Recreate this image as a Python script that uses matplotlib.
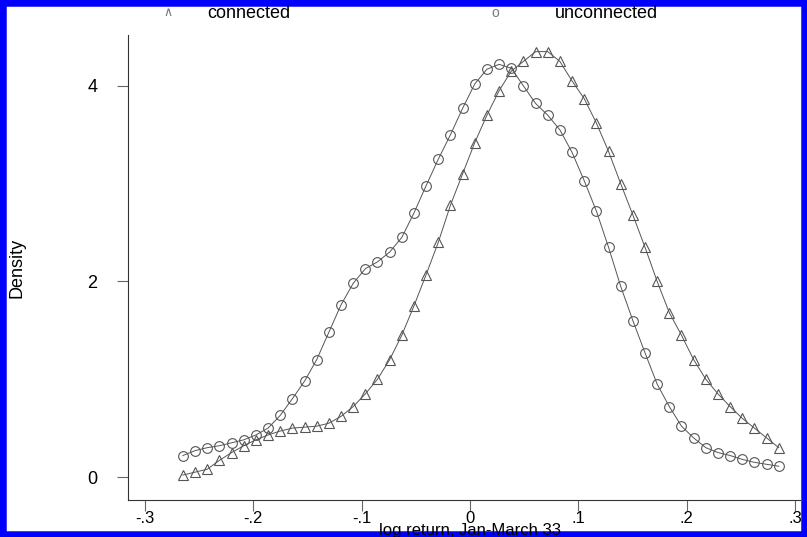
import numpy as np
import matplotlib
matplotlib.use("Agg")
import matplotlib.pyplot as plt
from matplotlib.patches import Rectangle

plt.rcParams['font.family'] = ['Liberation Sans', 'DejaVu Sans']

conn = [0.02,0.05,0.08,0.17,0.25,0.32,0.38,0.43,0.47,0.5,0.51,0.52,0.55,0.62,0.72,0.85,1.0,1.2,1.45,1.75,
        2.07,2.4,2.78,3.1,3.42,3.7,3.95,4.15,4.25,4.35,4.35,4.25,4.05,3.87,3.62,3.33,3.0,2.68,2.35,2.0,
        1.68,1.45,1.2,1.0,0.85,0.72,0.6,0.5,0.4,0.3]
unconn = [0.22,0.27,0.3,0.32,0.35,0.38,0.43,0.5,0.63,0.8,0.98,1.2,1.48,1.76,1.98,2.13,2.2,2.3,2.45,2.7,
          2.98,3.25,3.5,3.77,4.02,4.17,4.22,4.18,4.0,3.82,3.7,3.55,3.32,3.03,2.72,2.35,1.95,1.6,1.27,0.95,
          0.72,0.52,0.4,0.3,0.25,0.22,0.18,0.15,0.13,0.11]
xgrid = np.linspace(-0.265, 0.285, len(conn))
xticks = [-0.3,-0.2,-0.1,0,0.1,0.2,0.3]
xlabels = ['-.3','-.2','-.1','0','.1','.2','.3']
yticks = [0,2,4]

fig = plt.figure(figsize=(8.07,5.37), dpi=100)
ax = fig.add_axes([128/807, 1-500/537, 672/807, 465/537])
gc = '#555555'
ax.plot(xgrid, conn, color=gc, lw=0.7, marker='^', ms=7, mfc='none', mec=gc, mew=0.8)
ax.plot(xgrid, unconn, color=gc, lw=0.7, marker='o', ms=7, mfc='none', mec=gc, mew=0.8)
ax.set_xlim(-0.3157, 0.3046)
ax.set_ylim(-0.235, 4.52)
ax.set_xticks(xticks, xlabels)
ax.set_yticks(yticks)
for s in ['top','right']:
    ax.spines[s].set_visible(False)
for s in ['left','bottom']:
    ax.spines[s].set_linewidth(0.8)
    ax.spines[s].set_color('#333333')
ax.tick_params(labelsize=13, length=8, width=0.8, color='#666666')
ax.tick_params(axis='x', pad=0, labelsize=12)
ax.tick_params(axis='y', pad=14)
fig.text(470/807, 1-530/537, 'log return, Jan-March 33', fontsize=12, ha='center', va='center')
fig.text(17/807, 1-268/537, 'Density', fontsize=13, ha='center', va='center', rotation=90)
fig.text(168/807, 1-13/537, r'$\wedge$', color='#777777', fontsize=9, ha='center', va='center')
fig.text(207/807, 1-13/537, 'connected', fontsize=13, va='center')
fig.text(495/807, 1-13/537, 'o', color='#777777', fontsize=10, ha='center', va='center')
fig.text(555/807, 1-13/537, 'unconnected', fontsize=13, va='center')
fig.patches.append(Rectangle((0,0),1,1, transform=fig.transFigure, fill=False, ec='#0000ff', lw=9))
fig.savefig('out.png', dpi=100)
